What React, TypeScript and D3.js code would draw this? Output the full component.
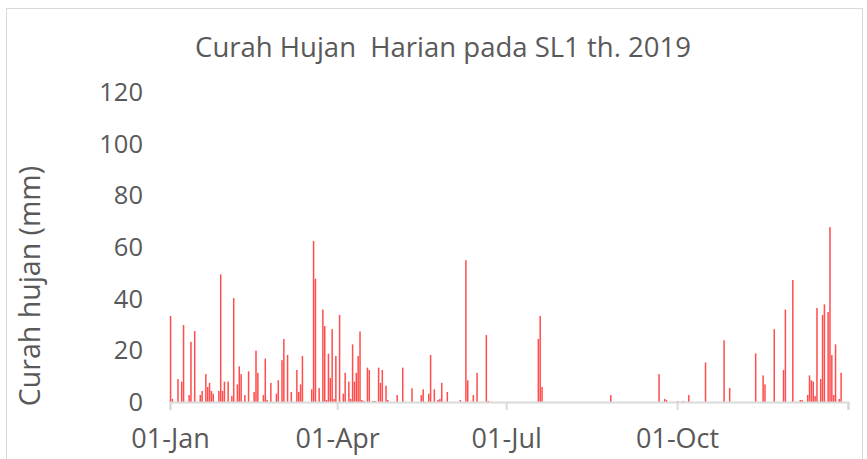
import React, { useEffect, useRef } from "react";
import * as d3 from "d3";

// ── Data ──────────────────────────────────────────────────────────────────────

// day of year (0 = 01-Jan-2019) for every rainy day
const rainDays = [
  0, 1, 4, 6, 7, 10, 11, 13, 16, 17, 19, 20, 21, 22, 23, 26, 27, 28, 29, 31,
  33, 34, 36, 37, 38, 40, 42, 45, 46, 47, 50, 51, 52, 54, 57, 58, 60, 61, 63,
  65, 68, 69, 70, 71, 76, 77, 78, 80, 82, 83, 84, 85, 86, 87, 88, 89, 91, 93,
  94, 96, 97, 98, 99, 100, 101, 102, 103, 104, 106, 107, 109, 110, 112, 113,
  114, 116, 117, 122, 125, 130, 135, 136, 139, 140, 142, 144, 145, 146, 149,
  156, 159, 160, 163, 165, 170, 171, 198, 199, 200, 237, 263, 266, 267, 273,
  276, 279, 288, 298, 301, 315, 319, 320, 325, 330, 331, 335, 339, 340, 343,
  344, 345, 346, 347, 348, 350, 351, 352, 354, 355, 356, 357, 358, 360, 361,
];

// rainfall (mm) for each day above
const rainMm = [
  33.3, 1.2, 8.9, 7.9, 29.8, 2.7, 23.3, 27.5, 2.7, 4.3, 10.8, 5.8, 7.4, 4.3,
  3.2, 4.3, 49.4, 4.3, 7.9, 7.9, 2.3, 40.2, 6.8, 13.8, 10.8, 2.7, 11.9, 3.9,
  19.9, 11.3, 2.7, 16.8, 0.8, 7.4, 3.2, 8.4, 16.2, 24.4, 18.2, 3.9, 12.4, 3.9,
  6.8, 17.8, 4.9, 62.3, 47.7, 5.4, 35.8, 29.4, 0.8, 18.7, 9.3, 28.2, 1.2, 17.8,
  33.7, 3.2, 11.3, 7.9, 1.2, 22.3, 7.9, 11.3, 17.8, 27.3, 0.8, 0.4, 13.3, 12.4,
  0.4, 0.4, 13.3, 7.4, 12.4, 6.3, 0.8, 2.7, 13.3, 5.3, 2.7, 4.9, 3.2, 18.2, 4.9,
  0.8, 1.2, 7.4, 3.9, 0.8, 54.9, 8.4, 2.7, 11.3, 25.9, 0.4, 24.4, 33.3, 5.8,
  2.7, 10.8, 1.2, 0.8, 0.4, 0.4, 2.7, 15.3, 23.9, 5.4, 18.8, 10.3, 6.8, 28.2,
  12.4, 35.8, 47.2, 0.8, 0.8, 2.7, 10.3, 8.4, 7.9, 2.3, 36.4, 8.9, 33.7, 37.8,
  34.8, 67.7, 18.2, 2.7, 22.3, 1.2, 11.3,
];

const yTicks = [0, 20, 40, 60, 80, 100, 120];
const xTickDates = ["2019-01-01", "2019-04-01", "2019-07-01", "2019-10-01"];

const TITLE = "Curah Hujan  Harian pada SL1 th. 2019";
const Y_TITLE = "Curah hujan (mm)";

// ── Layout ────────────────────────────────────────────────────────────────────

const W = 867;
const H = 459;
const PLOT = { left: 170, right: 848, top: 92, bottom: 402 };
const FONT = "'Open Sans', sans-serif";
const TEXT = "#595959";
const AXIS = "#d9d9d9";
const BAR = "#ff4d4d";

export default function App() {
  const svgRef = useRef<SVGSVGElement>(null);

  useEffect(() => {
    if (!svgRef.current) return;
    const svg = d3.select(svgRef.current);
    svg.selectAll("*").remove();

    const start = new Date(2019, 0, 1);
    const end = new Date(2020, 0, 1);
    const x = d3.scaleTime().domain([start, end]).range([PLOT.left, PLOT.right]);
    const y = d3.scaleLinear().domain([0, 120]).range([PLOT.bottom, PLOT.top]);

    const data = rainDays.map((d, i) => ({
      date: d3.timeDay.offset(start, d),
      mm: rainMm[i],
    }));

    // chart frame
    svg
      .append("rect")
      .attr("x", 6.5)
      .attr("y", 8.5)
      .attr("width", 856)
      .attr("height", 460)
      .attr("fill", "#fff")
      .attr("stroke", AXIS)
      .attr("stroke-width", 1);

    // title
    svg
      .append("text")
      .attr("x", 443)
      .attr("y", 47)
      .attr("dy", "0.35em")
      .attr("text-anchor", "middle")
      .attr("font-family", FONT)
      .attr("font-size", 27.5)
      .attr("fill", TEXT)
      .style("white-space", "pre")
      .text(TITLE);

    // y axis title
    svg
      .append("text")
      .attr("transform", `translate(30,286) rotate(-90)`)
      .attr("dy", "0.35em")
      .attr("text-anchor", "middle")
      .attr("font-family", FONT)
      .attr("font-size", 28.5)
      .attr("fill", TEXT)
      .text(Y_TITLE);

    // y tick labels
    svg
      .append("g")
      .selectAll("text")
      .data(yTicks)
      .join("text")
      .attr("x", 143)
      .attr("y", (d) => y(d))
      .attr("dy", "0.35em")
      .attr("text-anchor", "end")
      .attr("font-family", FONT)
      .attr("font-size", 25.5)
      .attr("fill", TEXT)
      .text((d) => String(d));

    // bars
    const bw = 1.5;
    svg
      .append("g")
      .selectAll("rect")
      .data(data)
      .join("rect")
      .attr("x", (d) => x(d.date) - 0.2)
      .attr("y", (d) => y(d.mm))
      .attr("width", bw)
      .attr("height", (d) => y(0) - y(d.mm))
      .attr("fill", BAR);

    // x axis
    const tickDates = [...xTickDates.map((s) => d3.timeParse("%Y-%m-%d")(s)!), end];
    const xAxis = d3
      .axisBottom(x)
      .tickValues(tickDates)
      .tickSize(8)
      .tickFormat((d) => {
        const dt = d as Date;
        return dt.getFullYear() === 2020 ? "" : d3.timeFormat("%d-%b")(dt);
      });

    svg
      .append("g")
      .attr("transform", `translate(0,${PLOT.bottom})`)
      .call(xAxis)
      .call((ax) => ax.select(".domain").attr("stroke", AXIS).attr("stroke-width", 2))
      .call((ax) => ax.selectAll(".tick line").attr("stroke", AXIS).attr("stroke-width", 2))
      .call((ax) =>
        ax
          .selectAll(".tick text")
          .attr("y", 37)
          .attr("dy", "0.35em")
          .attr("font-family", FONT)
          .attr("font-size", 27)
          .attr("fill", TEXT)
      );
  }, []);

  return (
    <svg
      ref={svgRef}
      width={W}
      height={H}
      style={{ position: "absolute", left: 0, top: 0, background: "#fff" }}
    />
  );
}
